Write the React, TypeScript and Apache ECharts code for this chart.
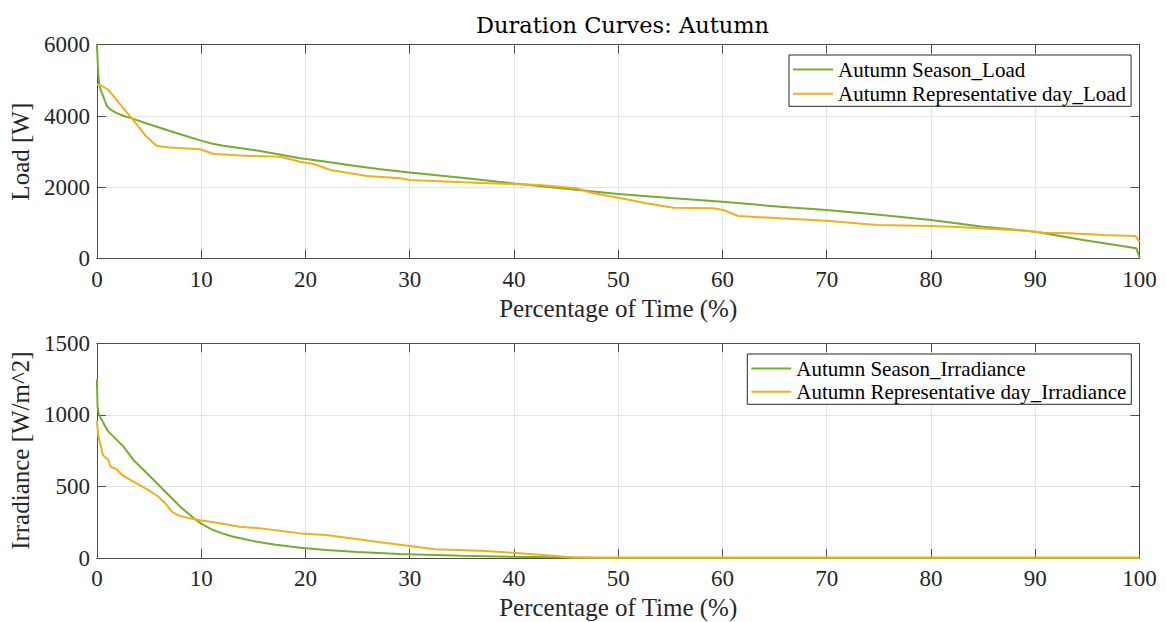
import React, { useEffect, useRef } from "react";
import * as echarts from "echarts";

const TITLE = "Duration Curves: Autumn";
const X_NAME = "Percentage of Time (%)";

// Load duration curves
const seasonLoadX = [0, 0.05, 0.1, 0.15, 0.25, 0.35, 0.48, 0.65, 0.8, 0.96, 1.3, 1.9, 2.6, 3.5, 4.5, 5.75, 7, 8, 9, 10, 11, 12, 13.5, 15, 17, 19.5, 22, 25, 27.2, 30, 35, 40, 45, 50, 55, 60, 65.5, 70, 75, 80, 85, 90, 94.6, 99.7, 100];
const seasonLoadY = [6000, 5700, 5350, 5100, 4880, 4740, 4640, 4520, 4400, 4280, 4180, 4080, 4000, 3920, 3820, 3700, 3580, 3490, 3400, 3310, 3230, 3175, 3110, 3050, 2950, 2815, 2720, 2590, 2507, 2420, 2270, 2110, 1960, 1814, 1700, 1598, 1458, 1365, 1230, 1085, 897, 757, 524, 291, 30];

const repLoadX = [0, 0.63, 1.1, 1.75, 2.55, 3.35, 4, 4.6, 5.3, 5.75, 7, 9.9, 11.2, 14.7, 17.6, 19.5, 20.8, 22.4, 25.9, 29.1, 30, 35.1, 39.9, 42.5, 46, 47.6, 50, 52.7, 55.3, 59.1, 60.1, 61.5, 65.5, 70, 74.8, 80.1, 83.1, 86.3, 89.2, 90.8, 93.3, 96.5, 99.6, 100];
const repLoadY = [4890, 4820, 4730, 4500, 4217, 3937, 3700, 3470, 3280, 3160, 3120, 3070, 2935, 2880, 2860, 2720, 2655, 2487, 2319, 2254, 2207, 2142, 2095, 2067, 1974, 1834, 1710, 1553, 1430, 1413, 1365, 1197, 1133, 1066, 945, 917, 880, 824, 785, 729, 712, 665, 637, 477];

// Irradiance duration curves
const seasonIrrX = [0, 0.03, 0.06, 0.15, 0.3, 0.48, 0.75, 1.1, 1.6, 2.55, 3.5, 4.8, 6.4, 8, 9.3, 10, 11, 12, 13, 14, 15, 17, 19.5, 22, 25, 29, 35, 40, 45, 48, 100];
const seasonIrrY = [1249, 1150, 1057, 1015, 985, 964, 925, 883, 848, 778, 685, 592, 475, 358, 277, 240, 200, 172, 150, 135, 118, 95, 72, 56, 42, 28, 15, 8, 3, 0, 0];

const repIrrX = [0, 0.15, 0.57, 1.1, 1.3, 1.9, 2.4, 3.5, 4.95, 5.9, 6.7, 7.2, 8, 8.9, 9.9, 11.5, 13.7, 16, 19.5, 22, 24.3, 27.2, 30, 32.4, 36.7, 39.9, 44.1, 45.5, 100];
const repIrrY = [957, 848, 720, 685, 638, 620, 580, 533, 475, 428, 370, 323, 293, 277, 263, 247, 219, 205, 172, 160, 138, 110, 84, 61, 51, 37, 14, 4, 3];

const SERIES_NAMES = [
  "Autumn Season_Load",
  "Autumn Representative day_Load",
  "Autumn Season_Irradiance",
  "Autumn Representative day_Irradiance",
];

const GREEN = "#77AC30";
const ORANGE = "#EDB120";
const FONT = "Liberation Serif";
const TXT = "#262626";
const AXIS = "#4d4d4d";
const GRIDC = "#e3e3e3";

const zip = (xs: number[], ys: number[]) => xs.map((x, i) => [x, ys[i]]);

export default function App() {
  const ref = useRef<HTMLDivElement>(null);
  useEffect(() => {
    document.body.style.margin = "0";
    if (!ref.current) return;
    const chart = echarts.init(ref.current, null, { renderer: "svg" });

    const grids = [
      { left: 96.7, top: 44.7, width: 1042.8, height: 214 },
      { left: 96.7, top: 343.3, width: 1042.8, height: 214.7 },
    ];

    const tick = { show: true, inside: true, length: 9, lineStyle: { color: AXIS, width: 1 } };
    const line = { show: true, lineStyle: { color: AXIS, width: 1 } };
    const fmt = (v: number) => String(v);

    const xMain = (gi: number) => ({
      type: "value", gridIndex: gi, position: "bottom", min: 0, max: 100, interval: 10,
      axisLine: { ...line, onZero: false }, axisTick: tick,
      axisLabel: { fontFamily: FONT, fontSize: 23, color: TXT, margin: 9, formatter: fmt },
      splitLine: { show: true, lineStyle: { color: GRIDC, width: 1 } },
      name: X_NAME, nameLocation: "middle", nameGap: 37,
      nameTextStyle: { fontFamily: FONT, fontSize: 25, color: TXT },
    });
    const xTop = (gi: number) => ({
      type: "value", gridIndex: gi, position: "top", min: 0, max: 100, interval: 10,
      axisLine: { ...line, onZero: false }, axisTick: tick, axisLabel: { show: false }, splitLine: { show: false },
    });
    const yMain = (gi: number, max: number, interval: number, name: string) => ({
      type: "value", gridIndex: gi, position: "left", min: 0, max, interval,
      axisLine: { ...line, onZero: false }, axisTick: tick,
      axisLabel: { fontFamily: FONT, fontSize: 23, color: TXT, margin: 7, formatter: fmt },
      splitLine: { show: true, lineStyle: { color: GRIDC, width: 1 } },
      name, nameLocation: "middle", nameGap: 62,
      nameTextStyle: { fontFamily: FONT, fontSize: 25, color: TXT },
    });
    const yRight = (gi: number, max: number, interval: number) => ({
      type: "value", gridIndex: gi, position: "right", min: 0, max, interval,
      axisLine: { ...line, onZero: false }, axisTick: tick, axisLabel: { show: false }, splitLine: { show: false },
    });

    const legendBase = {
      orient: "vertical", icon: "rect", itemWidth: 40, itemHeight: 2,
      borderColor: TXT, borderWidth: 1, backgroundColor: "#fff",
      textStyle: { fontFamily: FONT, fontSize: 21, color: "#000", lineHeight: 21 },
    };

    const mk = (name: string, color: string, xs: number[], ys: number[], axisIdx: number) => ({
      type: "line", name, xAxisIndex: axisIdx, yAxisIndex: axisIdx,
      data: zip(xs, ys), showSymbol: false, symbol: "none",
      lineStyle: { color, width: 2 }, itemStyle: { color },
    });

    chart.setOption({
      animation: false,
      backgroundColor: "#fff",
      title: {
        text: TITLE, left: 617.5, top: 8, textAlign: "center",
        textStyle: { fontFamily: "DejaVu Serif", fontSize: 22.5, fontWeight: "normal", color: "#000" },
      },
      grid: grids,
      legend: [
        { ...legendBase, left: 789, top: 55, padding: [4, 5, 2, 4], itemGap: 3.3, data: [SERIES_NAMES[0], SERIES_NAMES[1]] },
        { ...legendBase, left: 747.3, top: 354, padding: [4, 5, 2, 4], itemGap: 2.3, data: [SERIES_NAMES[2], SERIES_NAMES[3]] },
      ],
      xAxis: [xMain(0), xTop(0), xMain(1), xTop(1)],
      yAxis: [
        yMain(0, 6000, 2000, "Load [W]"), yRight(0, 6000, 2000),
        yMain(1, 1500, 500, "Irradiance [W/m^2]"), yRight(1, 1500, 500),
      ],
      series: [
        mk(SERIES_NAMES[0], GREEN, seasonLoadX, seasonLoadY, 0),
        mk(SERIES_NAMES[1], ORANGE, repLoadX, repLoadY, 0),
        mk(SERIES_NAMES[2], GREEN, seasonIrrX, seasonIrrY, 2),
        mk(SERIES_NAMES[3], ORANGE, repIrrX, repIrrY, 2),
      ],
    });
    return () => chart.dispose();
  }, []);
  return <div ref={ref} style={{ width: 1167, height: 622 }} />;
}
